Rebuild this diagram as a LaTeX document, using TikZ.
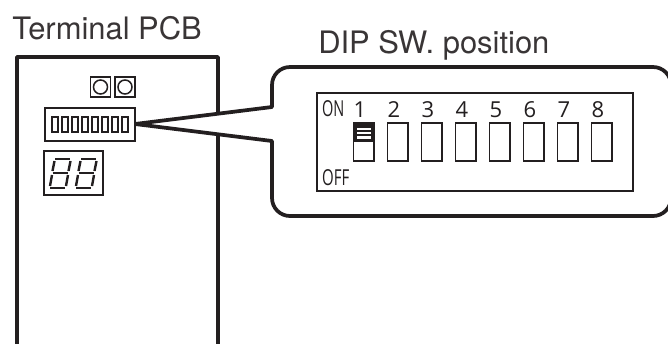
\documentclass[tikz,border=0pt]{standalone}
\usepackage{fontspec}
\setmainfont{TeX Gyre Heros}
\newfontfamily\dipfont{Open Sans}
\definecolor{inkblack}{HTML}{231F20}
\tikzset{
  thick line/.style={draw=inkblack,line width=2.8pt},
  thin line/.style={draw=inkblack,line width=1.15pt},
  title/.style={anchor=base west,font=\fontsize{23.2pt}{25pt}\selectfont,text=inkblack!90,inner sep=0pt},
  dip label/.style={anchor=base,font=\dipfont\fontsize{16.5pt}{18pt}\selectfont,text=inkblack,inner sep=0pt}
}
\begin{document}
\begin{tikzpicture}[x=0.75pt,y=-0.75pt]

\useasboundingbox (0,0) rectangle (668,343);
\clip (0,0) rectangle (668,343);

\coordinate (tip) at (135,124);
\coordinate (calloutup) at (272,107);
\coordinate (calloutdown) at (272,141);

% terminal board
\node [title] (pcbtitle) at (12,39) {Terminal PCB};
\draw [thick line,line join=round] (17,346) -- (17,57) -- (218,57) -- (218,346);

\foreach \i in {0,1} {
    \draw [thin line] (90.5+24.5*\i,77) rectangle (110.5+24.5*\i,97);
    \draw [thin line] (100.5+24.5*\i,87) circle (7);
}

% callout
\node [title] (diptitle) at (318,53) {DIP SW. position};
\draw [thick line,fill=white,line join=round] (tip) -- (calloutup) [rounded corners=13.5pt] -- (272,67) -- (671,67) -- (671,216) -- (272,216) [sharp corners] -- (calloutdown) -- cycle;

% switch block on the board
\draw [thin line,fill=white] (45,108) rectangle (135,141);
\foreach \i in {0,...,7}
    \draw [thin line,line width=1.5pt] (51.5+10*\i,117) rectangle (57.5+10*\i,132);

% two digit display
\draw [thin line] (44,151) rectangle (103,195);
\foreach \d in {0,1} {
    \begin{scope}[shift={(26*\d,0)},line width=1.8pt,draw=inkblack]
    \draw (55,159) -- (70,159);
    \draw (52.5,173) -- (67.5,173);
    \draw (50,188) -- (65,188);
    \draw (54.5,161) -- (52.5,171);
    \draw (70.5,161) -- (68.5,171);
    \draw (52,175) -- (50,186);
    \draw (68,175) -- (66,186);
    \end{scope}
}

% switches in detail
\draw [thin line] (317,93) rectangle (633,191);
\node [dip label,xscale=0.66,anchor=base west] (onlabel) at (322,116) {ON};
\node [dip label,xscale=0.68,anchor=base west] (offlabel) at (322,185) {OFF};

\foreach \i in {1,...,8} {
    \node [dip label] (num\i) at (326+34*\i,117) {\i};
    \draw [thin line,line width=1.4pt] (319.5+34*\i,123) rectangle (340+34*\i,161);
}

\fill [inkblack] (353,122.5) rectangle (374.5,142);
\foreach \i in {0,1,2}
    \fill [white] (357,127.5+4.4*\i) rectangle (371,130+4.4*\i);

\end{tikzpicture}
\end{document}
